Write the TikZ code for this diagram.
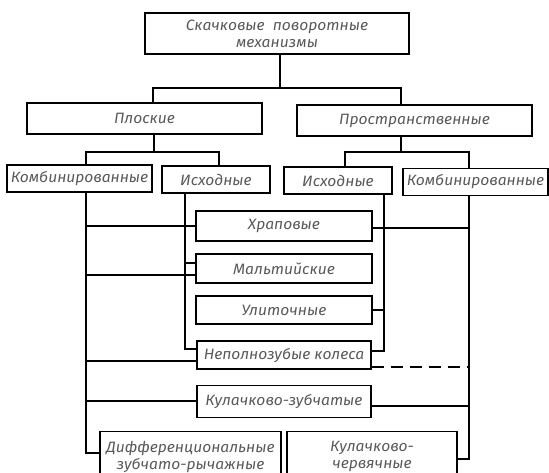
\documentclass[tikz,border=0pt]{standalone}
\usepackage{fontspec}
\setmainfont{Fira Sans}[FakeStretch=1.04]
\usepackage{tikz}

\begin{document}
\begin{tikzpicture}[x=1pt,y=-1pt,line width=1.1pt,
            box/.style={draw,inner sep=0pt,align=center,text=black!65,
              font=\itshape\fontsize{15}{17}\selectfont},
            wide/.style={box,minimum width=235pt,minimum height=31pt},
            kind/.style={box,minimum width=145pt,minimum height=27pt},
            src/.style={box,minimum width=108pt,minimum height=27pt},
            mech/.style={box,minimum width=176pt,minimum height=29pt}]

          \clip (0,0) rectangle (549,473);

          \node[box,minimum width=264pt,minimum height=41pt] (top) at (277,33.5)
                {Скачковые \ поворотные\\механизмы};
          \node[wide] (flat)  at (144.5,118.5) {Плоские};
          \node[wide] (space) at (414.5,120.5) {Пространственные};

          \node[kind] (combL) at ( 79.5,178.5) {Комбинированные};
          \node[src]  (srcL)  at (216,  179.5) {Исходные};
          \node[src]  (srcR)  at (338,  180.5) {Исходные};
          \node[kind] (combR) at (475.5,182)   {Комбинированные};

          \node[mech,minimum height=30pt] (ratchet) at (284,226)   {Храповые};
          \node[mech]                     (maltese) at (284,268.5) {Мальтийские};
          \node[mech,minimum height=28pt] (snail)   at (284,310)   {Улиточные};
          \node[mech,minimum width=174pt,minimum height=28pt]
                                          (partial) at (284,355)   {Неполнозубые колеса};
          \node[mech,minimum width=174pt,minimum height=32pt]
                                          (camgear) at (284,401.5) {Кулачково-зубчатые};

          \node[box,minimum width=181pt,minimum height=50pt] (diff)  at (190.5,456.5)
                {Дифференциональные\\зубчато-рычажные};
          \node[box,minimum width=170pt,minimum height=50pt] (camworm) at (372,456.5)
                {Кулачково-\\червячные};

          % branches
          \coordinate (j1) at (280,88);
          \coordinate (j2) at (154,152);
          \coordinate (j3) at (401,152);
          \draw ([xshift=3pt]top.south) -- (j1);
          \draw ([xshift=8.5pt]flat.north) |- (j1) -| ([xshift=-13.5pt]space.north);
          \draw ([xshift=9.5pt]flat.south) -- (j2);
          \draw ([xshift=6.5pt]combL.north) |- (j2) -| ([xshift=3pt]srcL.north);
          \draw ([xshift=-13.5pt]space.south) -- (j3);
          \draw ([xshift=7pt]srcR.north) |- (j3) -| ([xshift=-6.5pt]combR.north);

          % left buses
          \coordinate (cl) at ([xshift=6.5pt]combL.south);
          \coordinate (sl) at ([xshift=-31pt]srcL.south);
          \draw (cl) |- ([yshift=3.5pt]diff.west);
          \draw (cl |- ratchet.west) -- (ratchet.west);
          \draw (cl |- 0,275) -- ([yshift=-6.5pt]maltese.west);
          \draw (cl |- 0,361) -- ([yshift=-6pt]partial.west);
          \draw (cl |- 0,401) -- ([yshift=0.5pt]camgear.west);
          \draw (sl) |- ([yshift=6pt]partial.west);
          \draw (sl |- 0,263) -- ([yshift=5.5pt]maltese.west);

          % right buses
          \coordinate (sr) at ([xshift=46pt]srcR.south);
          \coordinate (cr) at ([xshift=-6.5pt]combR.south);
          \draw (sr) |- ([yshift=4pt]partial.east);
          \draw (sr |- snail.east) -- (snail.east);
          \draw (cr) |- ([yshift=-2.5pt]camworm.east);
          \draw ([yshift=-2pt]ratchet.east) -- (cr |- 0,228);
          \draw[dash pattern=on 12pt off 7pt] ([yshift=-12pt]partial.east) -- (cr |- 0,367);
          \draw ([yshift=-4.5pt]camgear.east) -- (cr |- 0,406);
\end{tikzpicture}
\end{document}
